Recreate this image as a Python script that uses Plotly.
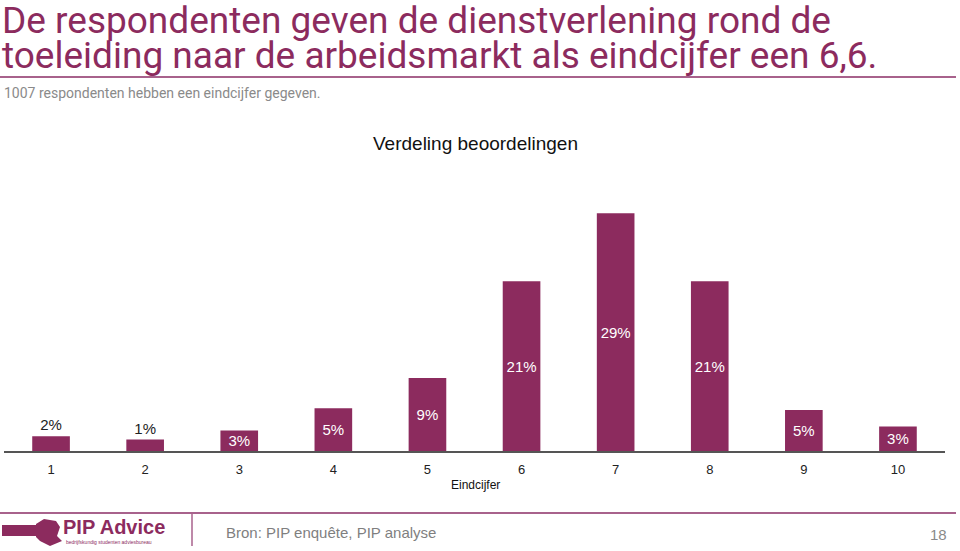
import plotly.graph_objects as go

# ---- data ----
categories = ["1", "2", "3", "4", "5", "6", "7", "8", "9", "10"]
values = [1.8, 1.4, 2.5, 5.2, 8.9, 20.7, 29.0, 20.7, 5.0, 3.0]
labels = ["2%", "1%", "3%", "5%", "9%", "21%", "29%", "21%", "5%", "3%"]
label_pos = ["outside", "outside", "inside", "inside", "inside",
             "inside", "inside", "inside", "inside", "inside"]

title_line1 = "De respondenten geven de dienstverlening rond de"
title_line2 = "toeleiding naar de arbeidsmarkt als eindcijfer een 6,6."
subtitle = "1007 respondenten hebben een eindcijfer gegeven."
chart_title = "Verdeling beoordelingen"
x_title = "Eindcijfer"
source = "Bron: PIP enquête, PIP analyse"
page_no = "18"

PURPLE = "#8C2B5E"
LINE = "#A8628C"
W, H = 960, 551
ML, MR, MT, MB = 4, 15, 188, 100
PW, PH = W - ML - MR, H - MT - MB


def px(x):
    return (x - ML) / PW


def py(y):
    return (H - MB - y) / PH


TITLE_FONT = "Liberation Sans Narrow, Roboto, sans-serif"
BODY_FONT = "Liberation Sans, Arial, sans-serif"

fig = go.Figure(go.Bar(
    x=categories, y=values, text=labels, textposition=label_pos,
    insidetextanchor="middle",
    insidetextfont=dict(color="white", size=15, family=BODY_FONT),
    outsidetextfont=dict(color="#222222", size=15, family=BODY_FONT),
    marker=dict(color=PURPLE, line=dict(width=0)),
    width=0.4, cliponaxis=False,
))

fig.update_layout(
    width=W, height=H, margin=dict(l=ML, r=MR, t=MT, b=MB),
    paper_bgcolor="white", plot_bgcolor="white", showlegend=False,
    uniformtext=dict(minsize=15, mode="show"),
    font=dict(family=BODY_FONT, color="#222222"),
)
fig.update_xaxes(type="category", showgrid=False, showline=True, linecolor="#555555",
                 linewidth=1.5, ticks="", tickfont=dict(size=13, color="#222222"),
                 ticklabelstandoff=6)
fig.update_yaxes(range=[0, PH / 8.2], visible=False, showgrid=False)

ann = []
ann.append(dict(text=title_line1, x=px(0), y=py(20), xanchor="left", yanchor="middle",
                font=dict(family=TITLE_FONT, size=37, color=PURPLE)))
ann.append(dict(text=title_line2, x=px(0), y=py(56), xanchor="left", yanchor="middle",
                font=dict(family=TITLE_FONT, size=37, color=PURPLE)))
ann.append(dict(text=subtitle, x=px(2), y=py(93), xanchor="left", yanchor="middle",
                font=dict(family=TITLE_FONT, size=14, color="#8A8A8A")))
ann.append(dict(text=chart_title, x=px(475), y=py(143), xanchor="center", yanchor="middle",
                font=dict(family=BODY_FONT, size=19, color="#111111")))
ann.append(dict(text=x_title, x=px(475), y=py(485), xanchor="center", yanchor="middle",
                font=dict(family=BODY_FONT, size=12, color="#111111")))
ann.append(dict(text="<b>PIP Advice</b>", x=px(61), y=py(527), xanchor="left", yanchor="middle",
                font=dict(family="Liberation Sans, Arial, sans-serif", size=20, color=PURPLE)))
ann.append(dict(text="bedrijfskundig studenten adviesbureau", x=px(64), y=py(542), xanchor="left",
                yanchor="middle", font=dict(family=BODY_FONT, size=5, color=PURPLE)))
ann.append(dict(text=source, x=px(224), y=py(532), xanchor="left", yanchor="middle",
                font=dict(family=BODY_FONT, size=15, color="#7F7F7F")))
ann.append(dict(text=page_no, x=px(949), y=py(534), xanchor="right", yanchor="middle",
                font=dict(family=BODY_FONT, size=15, color="#8A8A8A")))
for a in ann:
    a.update(xref="paper", yref="paper", showarrow=False)
fig.update_layout(annotations=ann)

shapes = [
    dict(type="line", x0=px(0), x1=px(956), y0=py(77), y1=py(77), line=dict(color=LINE, width=2)),
    dict(type="line", x0=px(0), x1=px(956), y0=py(513), y1=py(513), line=dict(color=LINE, width=2)),
    dict(type="line", x0=px(192), x1=px(192), y0=py(514), y1=py(546), line=dict(color=LINE, width=1.5)),
    dict(type="rect", x0=px(2), x1=px(38), y0=py(525), y1=py(536), fillcolor=PURPLE, line=dict(width=0)),
    dict(type="path",
         path=f"M {px(36)},{py(524)} L {px(44)},{py(519)} L {px(56)},{py(521)} L {px(60)},{py(527)} "
              f"L {px(57)},{py(536)} L {px(62)},{py(541)} L {px(50)},{py(546)} L {px(40)},{py(541)} "
              f"L {px(36)},{py(537)} Z",
         fillcolor=PURPLE, line=dict(width=0)),
]
for s in shapes:
    s.update(xref="paper", yref="paper")
fig.update_layout(shapes=shapes)

fig.write_html("out.html", config={"displayModeBar": False},
               post_script="document.body.style.margin='0';document.body.style.overflow='hidden';")
